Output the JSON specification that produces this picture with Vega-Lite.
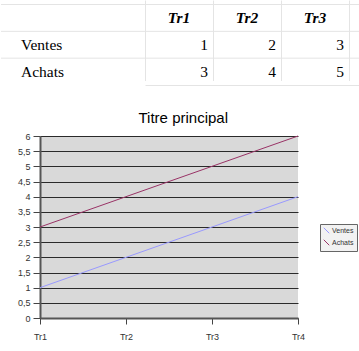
{
  "$schema": "https://vega.github.io/schema/vega-lite/v6.json",
  "padding": 0,
  "background": "white",
  "columns": 1,
  "center": false,
  "spacing": 26,
  "resolve": {"legend": {"color": "independent"}, "scale": {"color": "independent"}},
  "datasets": {
    "ventes": [
      {"serie": "Ventes", "trimestre": "Tr1", "valeur": 1},
      {"serie": "Ventes", "trimestre": "Tr2", "valeur": 2},
      {"serie": "Ventes", "trimestre": "Tr3", "valeur": 3},
      {"serie": "Ventes", "trimestre": "Tr4", "valeur": 4},
      {"serie": "Achats", "trimestre": "Tr1", "valeur": 3},
      {"serie": "Achats", "trimestre": "Tr2", "valeur": 4},
      {"serie": "Achats", "trimestre": "Tr3", "valeur": 5},
      {"serie": "Achats", "trimestre": "Tr4", "valeur": 6}
    ]
  },
  "config": {"view": {"stroke": null}},
  "concat": [
    {
      "width": 320,
      "height": 85,
      "data": {"name": "ventes"},
      "layer": [
        {
          "transform": [{"filter": "datum.trimestre === 'Tr1'"}],
          "mark": {"type": "rule", "color": "#e4e4e4", "strokeWidth": 1, "xOffset": -144},
          "encoding": {
            "x": {"datum": "Tr1", "type": "nominal", "bandPosition": 0,
              "scale": {"type": "band", "domain": ["Tr1", "Tr2", "Tr3", "Tr4"], "range": [105, 377], "paddingInner": 0, "paddingOuter": 0},
              "axis": {"orient": "bottom", "bandPosition": 0, "grid": true, "gridColor": "#e4e4e4", "gridWidth": 1, "labels": false, "ticks": false, "domain": true, "domainColor": "#e4e4e4", "domainWidth": 1, "title": null}},
            "x2": {"datum": "Tr4", "bandPosition": 1},
            "y": {"field": "serie", "type": "nominal", "bandPosition": 0,
              "scale": {"type": "band", "domain": ["entete", "Ventes", "Achats"], "range": [4.5, 85], "paddingInner": 0, "paddingOuter": 0},
              "axis": null}
          }
        },
        {
          "transform": [{"filter": "datum.trimestre === 'Tr1' && datum.serie === 'Ventes'"}],
          "mark": {"type": "rule", "color": "#e4e4e4", "strokeWidth": 1, "xOffset": -144},
          "encoding": {
            "x": {"datum": "Tr1", "type": "nominal", "bandPosition": 0},
            "x2": {"datum": "Tr4", "bandPosition": 1},
            "y": {"datum": "entete", "type": "nominal", "bandPosition": 0}
          }
        },
        {
          "transform": [{"filter": "datum.serie === 'Ventes' && datum.trimestre !== 'Tr4'"}],
          "mark": {"type": "text", "font": "Liberation Serif", "fontSize": 15.5, "fontWeight": "bold", "fontStyle": "italic", "align": "center", "baseline": "middle", "color": "black", "clip": true},
          "encoding": {
            "x": {"field": "trimestre", "type": "nominal", "bandPosition": 0.5},
            "y": {"datum": "entete", "type": "nominal", "bandPosition": 0.5},
            "text": {"field": "trimestre"}
          }
        },
        {
          "transform": [{"filter": "datum.trimestre !== 'Tr4'"}],
          "mark": {"type": "text", "font": "Liberation Serif", "fontSize": 15.5, "align": "right", "baseline": "middle", "dx": -5, "color": "black", "clip": true},
          "encoding": {
            "x": {"field": "trimestre", "type": "nominal", "bandPosition": 1},
            "y": {"field": "serie", "type": "nominal", "bandPosition": 0.5},
            "text": {"field": "valeur"}
          }
        },
        {
          "transform": [{"filter": "datum.trimestre === 'Tr1'"}],
          "mark": {"type": "text", "font": "Liberation Serif", "fontSize": 15.5, "align": "left", "baseline": "middle", "dx": -124, "color": "black"},
          "encoding": {
            "x": {"field": "trimestre", "type": "nominal", "bandPosition": 0},
            "y": {"field": "serie", "type": "nominal", "bandPosition": 0.5},
            "text": {"field": "serie"}
          }
        }
      ]
    },
    {
      "width": 258,
      "height": 182,
      "view": {"fill": "#d9d9d9", "stroke": null},
      "title": {"text": "Titre principal", "font": "Liberation Sans", "fontSize": 15, "fontWeight": "normal", "color": "black", "anchor": "middle", "frame": "bounds", "offset": 6, "dx": 4},
      "data": {"name": "ventes"},
      "mark": {"type": "line", "strokeWidth": 1},
      "encoding": {
        "x": {"field": "trimestre", "type": "ordinal",
          "scale": {"type": "point", "padding": 0},
          "axis": {"title": null, "labelAngle": 0, "labelFont": "Liberation Sans", "labelFontSize": 9, "labelColor": "#333", "tickSize": 6, "tickColor": "#444", "tickWidth": 1, "labelPadding": 8, "domainColor": "#555", "domainWidth": 2, "grid": false}},
        "y": {"field": "valeur", "type": "quantitative",
          "scale": {"domain": [0, 6], "nice": false, "zero": true},
          "axis": {"title": null, "values": [0, 0.5, 1, 1.5, 2, 2.5, 3, 3.5, 4, 4.5, 5, 5.5, 6], "format": "~g", "labelExpr": "replace(datum.label, '.', ',')", "labelFont": "Liberation Sans", "labelFontSize": 9, "labelColor": "#333", "tickSize": 7, "tickColor": "#444", "labelPadding": 3, "domainColor": "#555", "domainWidth": 2, "grid": true, "gridColor": "#2a2a2a", "gridWidth": 1.2, "gridOpacity": 1, "minExtent": 39}},
        "color": {"field": "serie", "type": "nominal",
          "scale": {"domain": ["Ventes", "Achats"], "range": ["#9999ff", "#993366"]},
          "legend": {"orient": "none", "legendX": 280, "legendY": 88, "title": null, "symbolType": "M-1,-1L1,1", "symbolSize": 30, "symbolStrokeWidth": 1, "labelFont": "Liberation Sans", "labelFontSize": 7, "labelColor": "#333", "fillColor": "#f2f2f2", "strokeColor": "#666", "padding": 3, "rowPadding": 1, "labelOffset": 2}}
      }
    }
  ]
}
